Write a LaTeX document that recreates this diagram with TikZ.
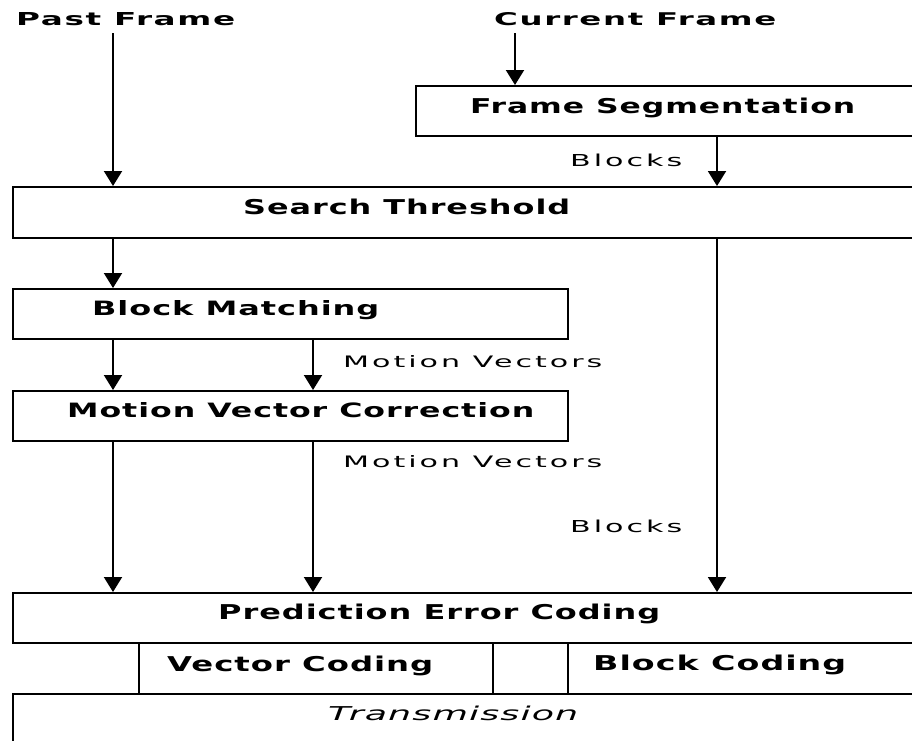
\documentclass[tikz,border=0pt]{standalone}
\usepackage{fontspec}
\setmainfont{DejaVu Sans}
\newfontfamily\lblfont{DejaVu Sans}[LetterSpace=10]
\newfontfamily\ttlfont{DejaVu Sans}[LetterSpace=5]
\newfontfamily\boxfont{DejaVu Sans}[LetterSpace=3]
\usetikzlibrary{arrows.meta}
\newcommand{\fitw}[3]{\resizebox{#1pt}{#2pt}{#3}}
\begin{document}
\begin{tikzpicture}[x=1pt,y=-1pt,
  box/.style={draw=black, line width=2pt, rectangle, inner sep=0pt, anchor=north west},
  txt/.style={inner sep=0pt, anchor=base west, text=black},
  arr/.style={draw=black, line width=2pt, -{Triangle[width=18pt,length=15pt]}}]
\useasboundingbox (0,0) rectangle (912,740);
\clip (0,0) rectangle (912,740);
\fill[white] (0,0) rectangle (912,740);

% columns
\coordinate (c1) at (113,0);
\coordinate (c2) at (313,0);
\coordinate (c3) at (515,0);
\coordinate (c4) at (717,0);
\coordinate (pastStart) at (113,33);
\coordinate (curStart) at (515,33);

% boxes
\node[box, minimum width=520pt, minimum height=50pt] (seg) at (415,85) {};
\node[box, minimum width=920pt, minimum height=51pt] (st) at (12,186) {};
\node[box, minimum width=555pt, minimum height=50pt] (bm) at (12,288) {};
\node[box, minimum width=555pt, minimum height=50pt] (mvc) at (12,390) {};
\node[box, minimum width=920pt, minimum height=50pt] (pec) at (12,592) {};
\node[box, minimum width=354pt, minimum height=51pt] (vc) at (138,642) {};
\node[box, minimum width=75pt, minimum height=51pt] (gap) at (492,642) {};
\node[box, minimum width=365pt, minimum height=51pt] (bc) at (567,642) {};
\node[box, minimum width=920pt, minimum height=60pt] (tr) at (12,693) {};

% texts
\node[txt] (pastlbl) at (16,25) {\fitw{219}{13}{\ttlfont\bfseries Past Frame}};
\node[txt] (curlbl) at (494,25) {\fitw{282}{13}{\ttlfont\bfseries Current Frame}};
\node[txt] (segtxt) at (470,113) {\fitw{385}{15.5}{\boxfont\bfseries Frame Segmentation}};
\node[txt] (blk1) at (570,166) {\fitw{112}{12.5}{\lblfont Blocks}};
\node[txt] (sttxt) at (243,214) {\fitw{327}{15.5}{\boxfont\bfseries Search Threshold}};
\node[txt] (bmtxt) at (92,315) {\fitw{287}{15}{\boxfont\bfseries Block Matching}};
\node[txt] (mv1) at (343,367) {\fitw{259}{12}{\lblfont Motion Vectors}};
\node[txt] (mvctxt) at (67,417) {\fitw{467}{15}{\boxfont\bfseries Motion Vector Correction}};
\node[txt] (mv2) at (343,467) {\fitw{259}{12}{\lblfont Motion Vectors}};
\node[txt] (blk2) at (570,532) {\fitw{112}{12.5}{\lblfont Blocks}};
\node[txt] (pectxt) at (218,619) {\fitw{442}{15.5}{\boxfont\bfseries Prediction Error Coding}};
\node[txt] (vctxt) at (167,671) {\fitw{266}{15.5}{\boxfont\bfseries Vector Coding}};
\node[txt] (bctxt) at (593,670) {\fitw{253}{15.5}{\boxfont\bfseries Block Coding}};
\node[txt] (trtxt) at (328,720) {\fitw{250}{14.5}{\boxfont\itshape Transmission}};

% connectors
\draw[arr] (pastStart) -- (st.north -| c1);
\draw[arr] (curStart) -- (seg.north -| c3);
\draw[arr] (seg.south -| c4) -- (st.north -| c4);
\draw[arr] (st.south -| c1) -- (bm.north -| c1);
\draw[arr] (st.south -| c4) -- (pec.north -| c4);
\draw[arr] (bm.south -| c1) -- (mvc.north -| c1);
\draw[arr] (bm.south -| c2) -- (mvc.north -| c2);
\draw[arr] (mvc.south -| c1) -- (pec.north -| c1);
\draw[arr] (mvc.south -| c2) -- (pec.north -| c2);
\end{tikzpicture}
\end{document}
